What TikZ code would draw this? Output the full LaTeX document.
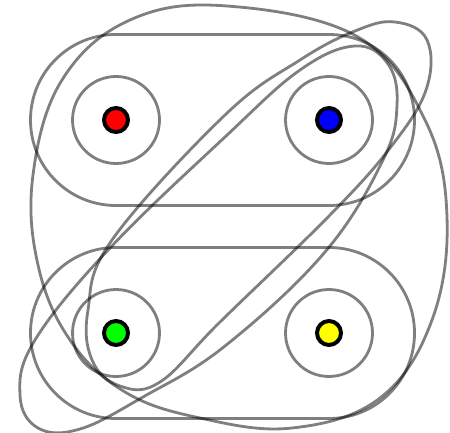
\documentclass[tikz,border=0pt]{standalone}
\usetikzlibrary{calc}
\definecolor{vgreen}{RGB}{0,255,0}
\definecolor{vyellow}{RGB}{255,255,0}
\definecolor{vred}{RGB}{255,0,0}
\definecolor{vblue}{RGB}{0,0,255}
\tikzset{
  hedge/.style={draw=black, draw opacity=0.5, line width=2.8pt},
  vtx/.style={circle, draw=black, line width=4pt, minimum size=24pt, inner sep=0pt},
  smoothloop/.style={smooth cycle, tension=0.65}
}
\begin{document}
\begin{tikzpicture}[x=1pt,y=-1pt]
\useasboundingbox (0,0) rectangle (450,433);
\coordinate (r) at (116,120);
\coordinate (b) at (329,120);
\coordinate (g) at (116,333);
\coordinate (y) at (329,333);
% single-vertex hyperedges
\foreach \v in {r,b,g,y} \draw[hedge] (\v) circle[radius=43.5];
% pair hyperedges (stadiums)
\draw[hedge, rounded corners=85.4pt] ($(r)+(-85.5,-85.5)$) rectangle ($(b)+(85.5,85.5)$);
\draw[hedge, rounded corners=85.4pt] ($(g)+(-85.5,-85.5)$) rectangle ($(y)+(85.5,85.5)$);
% diagonal shape, tight at green, long tip top-right
\draw[hedge] plot[smoothloop] coordinates {
  (395,22) (427,40) (426,90) (390,148) (330,215) (220,322)
  (160,382) (120,386) (92,360) (88,310) (112,240) (225,115) (300,60) (355,31)};
% diagonal shape, tight at blue, long tip bottom-left
\draw[hedge] plot[smoothloop] coordinates {
  (355,46) (388,64) (397,105) (383,160) (325,252) (225,346)
  (143,397) (80,429) (38,428) (20,395) (35,340) (110,248) (225,137) (300,70)};
% big blob around all four
\draw[hedge] plot[smoothloop] coordinates {
  (227,6) (358,37) (425,120) (447,217) (432,320) (380,398) (292,428)
  (200,418) (125,392) (70,340) (38,265) (33,175) (62,80) (130,20)};
% vertices
\node[vtx, fill=vred] (R) at (r) {};
\node[vtx, fill=vblue] (B) at (b) {};
\node[vtx, fill=vgreen] (G) at (g) {};
\node[vtx, fill=vyellow] (Y) at (y) {};
\end{tikzpicture}
\end{document}
